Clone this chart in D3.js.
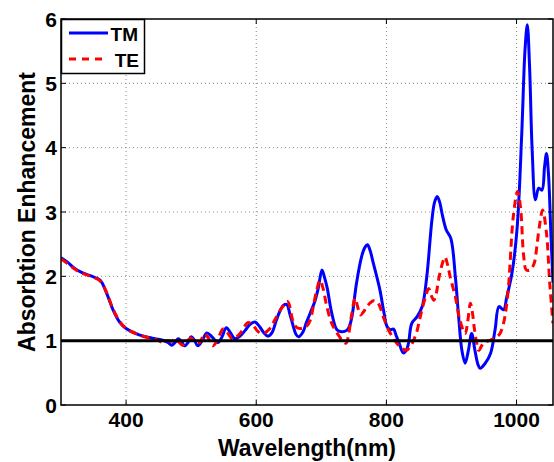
<!DOCTYPE html>
<html><head><meta charset="utf-8">
<script src="https://cdn.jsdelivr.net/npm/d3@7"></script>
<style>
html,body{margin:0;padding:0;background:#fff;}
text{font-family:"Liberation Sans",Arial,Helvetica,sans-serif;font-weight:bold;fill:#000;}
</style></head>
<body>
<svg id="chart" width="554" height="462"></svg>
<script>
const xTicks = [400, 600, 800, 1000];
const yTicks = [0, 1, 2, 3, 4, 5, 6];
const seriesNames = ["TM", "TE"];

const tmWave = [300,310,320,330,345,360,370,380,390,400,420,440,455,465,470,475,480,485,490,495,500,505,510,517,524,532,541,547,554,560,567,575,583,590,598,605,612,618,624,631,636,642,647,652,657,661,665,672,677,683,690,695,701,705,709,716,724,731,739,743,747,754,762,767,771,775,780,790,796,801,806,811,815,819,826,831,834,839,847,855,862,870,874,878,882,885,892,899,906,911,916,921,926,931,936,941,944,952,960,967,973,980,985,993,1001,1008,1013,1016.5,1020,1024,1029,1034,1039,1043,1046,1049,1053,1056];
const tmValue = [2.29,2.22,2.13,2.07,2.01,1.94,1.74,1.48,1.29,1.19,1.09,1.04,1.01,0.97,0.93,0.97,1.03,0.99,0.92,0.97,1.06,1.01,0.92,1.00,1.12,1.06,0.97,1.05,1.20,1.13,1.03,1.07,1.16,1.25,1.29,1.22,1.12,1.07,1.12,1.32,1.45,1.55,1.56,1.40,1.22,1.10,1.06,1.14,1.28,1.43,1.61,1.80,2.10,1.98,1.82,1.43,1.17,1.14,1.16,1.22,1.37,1.89,2.31,2.45,2.49,2.40,2.20,1.79,1.45,1.22,1.17,1.18,1.08,0.98,0.81,0.86,0.96,1.27,1.37,1.53,1.99,2.88,3.15,3.24,3.15,3.00,2.72,2.59,1.99,1.37,0.85,0.65,0.85,1.11,0.85,0.62,0.57,0.65,0.80,1.17,1.53,1.48,1.68,2.05,2.77,4.22,5.52,5.91,5.26,3.96,3.19,3.37,3.34,3.70,3.91,3.60,2.60,1.90];

const teWave = [300,310,320,330,345,360,370,380,390,400,420,440,450,457,463,470,475,481,487,493,500,505,513,520,526,533,540,549,556,563,570,578,587,595,603,612,621,630,640,648,657,663,670,677,683,688,693,698,703,708,716,726,734,738,742,747,752,756,760,765,770,780,786,790,796,803,810,816,824,831,836,842,847,852,860,865,869,873,877,880,886,890,894,898,906,913,921,925,929,932,935,939,942,949,960,970,975,980,984,988,990,995,1001.5,1006,1011,1015,1021,1027,1031,1035,1040,1046,1051,1056];
const teValue = [2.27,2.20,2.12,2.06,2.00,1.93,1.75,1.49,1.30,1.19,1.09,1.03,1.00,0.97,1.00,0.99,1.02,0.98,0.93,0.99,1.04,0.98,0.97,1.10,1.05,0.92,1.00,1.18,1.12,1.03,1.06,1.15,1.28,1.24,1.14,1.12,1.19,1.35,1.52,1.61,1.29,1.20,1.19,1.22,1.32,1.55,1.79,1.94,1.80,1.55,1.27,1.09,0.98,0.96,1.10,1.43,1.66,1.52,1.40,1.45,1.53,1.62,1.60,1.53,1.35,1.17,1.05,0.96,0.88,0.85,0.90,1.01,1.15,1.37,1.68,1.81,1.70,1.63,1.75,1.94,2.20,2.30,2.18,1.99,1.68,1.32,1.11,1.30,1.58,1.45,1.20,0.95,0.85,0.96,1.01,1.06,1.12,1.27,1.50,1.89,2.20,2.93,3.32,3.08,2.31,2.10,2.10,2.20,2.45,2.77,3.03,2.67,1.89,1.27];

const refLevel = 1;

const svg = d3.select("#chart");
const L = 61, R = 553, T = 19, B = 405;
const x = d3.scaleLinear().domain([300, 1056]).range([L, R]);
const y = d3.scaleLinear().domain([0, 6]).range([B, T]);

// grid
const grid = svg.append("g").attr("stroke", "#8a8a8a").attr("stroke-width", 1).attr("stroke-dasharray", "1,3");
xTicks.forEach(t => grid.append("line").attr("x1", x(t)).attr("x2", x(t)).attr("y1", T).attr("y2", B));
yTicks.filter(t => t > 0 && t < 6).forEach(t => grid.append("line").attr("x1", L).attr("x2", R).attr("y1", y(t)).attr("y2", y(t)));

const clip = svg.append("clipPath").attr("id", "c").append("rect").attr("x", L).attr("y", T).attr("width", R - L).attr("height", B - T);

const line = d3.line().x(d => x(d[0])).y(d => y(d[1])).curve(d3.curveCatmullRom.alpha(0.5));
const tm = tmWave.map((w, i) => [w, tmValue[i]]);
const te = teWave.map((w, i) => [w, teValue[i]]);

const plot = svg.append("g").attr("clip-path", "url(#c)");
plot.append("path").attr("d", line(tm)).attr("fill", "none").attr("stroke", "#0000ff").attr("stroke-width", 3).attr("stroke-linejoin", "round");
plot.append("path").attr("d", line(te)).attr("fill", "none").attr("stroke", "#ff0000").attr("stroke-width", 3).attr("stroke-dasharray", "8,5");
plot.append("line").attr("x1", L).attr("x2", R).attr("y1", y(refLevel)).attr("y2", y(refLevel)).attr("stroke", "#000").attr("stroke-width", 3);

// box and ticks
svg.append("rect").attr("x", L).attr("y", T).attr("width", R - L).attr("height", B - T).attr("fill", "none").attr("stroke", "#000").attr("stroke-width", 1.5);
const tk = svg.append("g").attr("stroke", "#000").attr("stroke-width", 1);
xTicks.forEach(t => {
  tk.append("line").attr("x1", x(t)).attr("x2", x(t)).attr("y1", B).attr("y2", B - 5);
  tk.append("line").attr("x1", x(t)).attr("x2", x(t)).attr("y1", T).attr("y2", T + 5);
});
yTicks.forEach(t => {
  tk.append("line").attr("x1", L).attr("x2", L + 5).attr("y1", y(t)).attr("y2", y(t));
  tk.append("line").attr("x1", R).attr("x2", R - 5).attr("y1", y(t)).attr("y2", y(t));
});

// tick labels
xTicks.forEach(t => svg.append("text").attr("x", x(t)).attr("y", 427).attr("text-anchor", "middle").attr("font-size", 21).text(t));
yTicks.forEach(t => svg.append("text").attr("x", 57).attr("y", y(t) + 7.5).attr("text-anchor", "end").attr("font-size", 21).text(t));

// axis labels
svg.append("text").attr("x", (L + R) / 2).attr("y", 456).attr("text-anchor", "middle").attr("font-size", 23).text("Wavelength(nm)");
svg.append("text").attr("transform", `translate(35,${(T + B) / 2}) rotate(-90)`).attr("text-anchor", "middle").attr("font-size", 23).text("Absorbtion Enhancement");

// legend
const lg = svg.append("g");
lg.append("rect").attr("x", 61.5).attr("y", 19.5).attr("width", 83).attr("height", 54).attr("fill", "#fff").attr("stroke", "#000").attr("stroke-width", 1.5);
lg.append("line").attr("x1", 69).attr("x2", 108).attr("y1", 33).attr("y2", 33).attr("stroke", "#0000ff").attr("stroke-width", 3);
lg.append("line").attr("x1", 69).attr("x2", 108).attr("y1", 59).attr("y2", 59).attr("stroke", "#ff0000").attr("stroke-width", 3).attr("stroke-dasharray", "7,6");
lg.append("text").attr("x", 138).attr("y", 40.5).attr("text-anchor", "end").attr("font-size", 19).text(seriesNames[0]);
lg.append("text").attr("x", 139).attr("y", 66.5).attr("text-anchor", "end").attr("font-size", 19).text(seriesNames[1]);
</script>
</body></html>
